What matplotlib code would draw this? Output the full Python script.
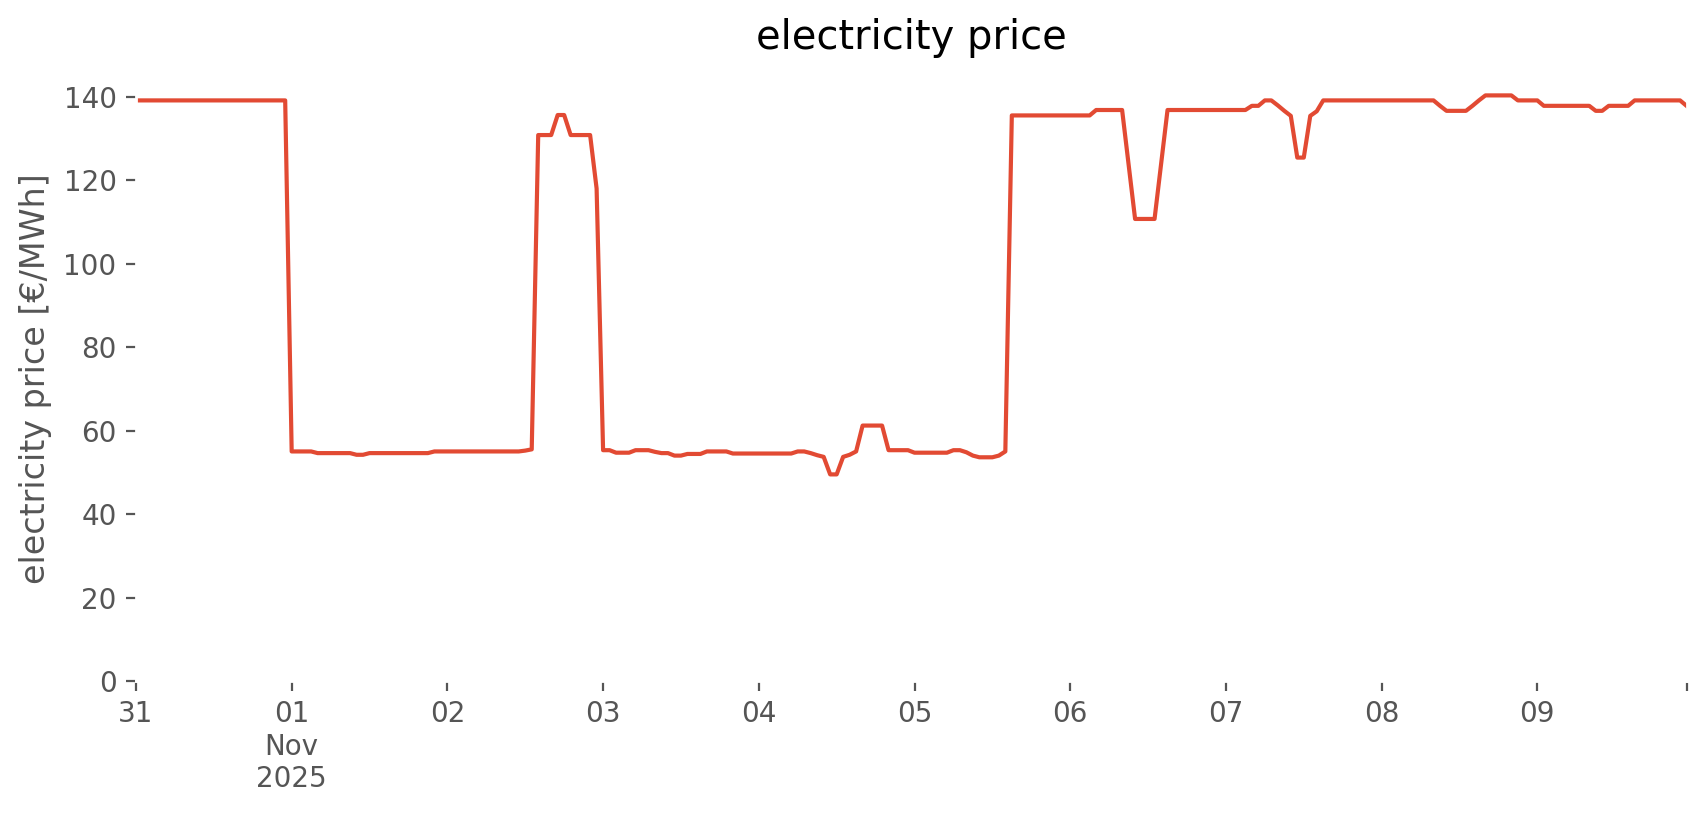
import matplotlib
matplotlib.use("Agg")
import matplotlib.pyplot as plt
import pandas as pd

# hourly day-ahead price, Oct 31 00:00 .. Nov 9 23:00 (EUR/MWh)
oct31 = [139.1] * 24
nov01 = [55.0, 55.0, 55.0, 55.0, 54.6, 54.6, 54.6, 54.6, 54.6, 54.6, 54.2, 54.2,
         54.6, 54.6, 54.6, 54.6, 54.6, 54.6, 54.6, 54.6, 54.6, 54.6, 55.0, 55.0]
nov02 = [55.0, 55.0, 55.0, 55.0, 55.0, 55.0, 55.0, 55.0, 55.0, 55.0, 55.0, 55.0,
         55.2, 55.5, 130.8, 130.8, 130.8, 135.6, 135.6, 130.8, 130.8, 130.8, 130.8, 118.0]
nov03 = [55.3, 55.3, 54.7, 54.7, 54.7, 55.3, 55.3, 55.3, 54.9, 54.6, 54.6, 54.0,
         54.0, 54.4, 54.4, 54.4, 55.0, 55.0, 55.0, 55.0, 54.5, 54.5, 54.5, 54.5]
nov04 = [54.5, 54.5, 54.5, 54.5, 54.5, 54.5, 55.0, 55.0, 54.6, 54.1, 53.7, 49.5,
         49.5, 53.7, 54.2, 55.0, 61.2, 61.2, 61.2, 61.2, 55.3, 55.3, 55.3, 55.3]
nov05 = [54.7, 54.7, 54.7, 54.7, 54.7, 54.7, 55.3, 55.3, 54.8, 54.0, 53.6, 53.6,
         53.6, 54.0, 55.0, 135.5, 135.5, 135.5, 135.5, 135.5, 135.5, 135.5, 135.5, 135.5]
nov06 = [135.5, 135.5, 135.5, 135.5, 136.8, 136.8, 136.8, 136.8, 136.8, 123.7, 110.7, 110.7,
         110.7, 110.7, 123.7, 136.8, 136.8, 136.8, 136.8, 136.8, 136.8, 136.8, 136.8, 136.8]
nov07 = [136.8, 136.8, 136.8, 136.8, 137.8, 137.8, 139.1, 139.1, 137.9, 136.6, 135.4, 125.4,
         125.4, 135.4, 136.5, 139.1, 139.1, 139.1, 139.1, 139.1, 139.1, 139.1, 139.1, 139.1]
nov08 = [139.1, 139.1, 139.1, 139.1, 139.1, 139.1, 139.1, 139.1, 139.1, 137.8, 136.6, 136.6,
         136.6, 136.6, 137.8, 139.1, 140.3, 140.3, 140.3, 140.3, 140.3, 139.1, 139.1, 139.1]
nov09 = [139.1, 137.8, 137.8, 137.8, 137.8, 137.8, 137.8, 137.8, 137.8, 136.6, 136.6, 137.8,
         137.8, 137.8, 137.8, 139.1, 139.1, 139.1, 139.1, 139.1, 139.1, 139.1, 139.1, 137.8]

prices = oct31 + nov01 + nov02 + nov03 + nov04 + nov05 + nov06 + nov07 + nov08 + nov09
times = pd.date_range("2025-10-31 00:00", periods=len(prices), freq="h")

day_ticks = pd.date_range("2025-10-31", "2025-11-09", freq="D")
day_labels = ["31", "01\nNov\n2025", "02", "03", "04", "05", "06", "07", "08", "09"]

plt.style.use("ggplot")
fig = plt.figure(figsize=(1706 / 200, 815 / 200), dpi=200, facecolor="white")
ax = fig.add_axes([0.0797, 0.1644, 0.9089, 0.7418])
ax.set_facecolor("white")
ax.grid(False)

ax.plot(times, prices, color="#E24A33", lw=1.5)
ax.set_xlim(times[0], times[-1])
ax.set_ylim(bottom=0)

ticks = list(day_ticks) + [times[-1]]
ax.set_xticks(ticks)
ax.set_xticklabels(day_labels + [""])
ax.set_yticks(range(0, 141, 20))

ax.set_title("electricity price", color="black", pad=10)
ax.set_ylabel("electricity price [€/MWh]")

fig.savefig("out.png", dpi=200, facecolor="white")
